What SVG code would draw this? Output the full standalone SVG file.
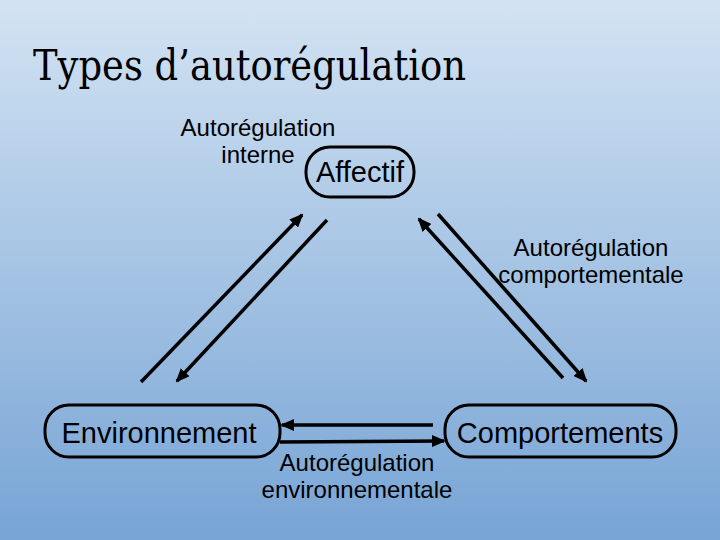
<svg xmlns="http://www.w3.org/2000/svg" width="720" height="540" viewBox="0 0 720 540">
<defs>
<linearGradient id="bg" x1="0" y1="0" x2="0" y2="1">
<stop offset="0" stop-color="#d3e3f3"/>
<stop offset="1" stop-color="#77a4d5"/>
</linearGradient>
<marker id="ah" markerWidth="14" markerHeight="12" refX="12" refY="6" orient="auto" markerUnits="userSpaceOnUse">
<path d="M0,0 L14,6 L0,12 z" fill="#000"/>
</marker>
<style>
.node rect{fill:none;stroke:#000;stroke-width:3}
.nt{font-family:"Liberation Sans",Arial,sans-serif;font-size:29px;fill:#000;text-anchor:middle}
.lbl{font-family:"Liberation Sans",Arial,sans-serif;font-size:24px;fill:#000;text-anchor:middle}
.conn line{stroke:#000;stroke-width:3.5}
</style>
</defs>
<rect x="0" y="0" width="720" height="540" fill="url(#bg)"/>
<text x="33" y="80" font-family="'DejaVu Serif','Liberation Serif',serif" font-size="42" textLength="433" lengthAdjust="spacingAndGlyphs" fill="#000">Types d’autorégulation</text>
<g id="affectif" class="node">
<rect x="306" y="147" width="108" height="50" rx="24"/>
<text class="nt" x="360" y="182">Affectif</text>
</g>
<g id="environnement" class="node">
<rect x="45" y="405" width="235" height="52" rx="24"/>
<text class="nt" x="159" y="443">Environnement</text>
</g>
<g id="comportements" class="node">
<rect x="445" y="405" width="231" height="52" rx="24"/>
<text class="nt" x="560" y="443">Comportements</text>
</g>
<g id="connectors" class="conn">
<line x1="141" y1="382" x2="302" y2="215" marker-end="url(#ah)"/>
<line x1="327" y1="220" x2="177" y2="381" marker-end="url(#ah)"/>
<line x1="563" y1="378" x2="419" y2="219" marker-end="url(#ah)"/>
<line x1="438" y1="214" x2="586" y2="381" marker-end="url(#ah)"/>
<line x1="433" y1="425" x2="282" y2="425" marker-end="url(#ah)"/>
<line x1="280" y1="442" x2="444" y2="441" marker-end="url(#ah)"/>
</g>
<g id="labels">
<text class="lbl" x="258" y="136">Autorégulation</text>
<text class="lbl" x="258" y="163">interne</text>
<text class="lbl" x="591" y="256">Autorégulation</text>
<text class="lbl" x="591" y="283">comportementale</text>
<text class="lbl" x="357" y="471">Autorégulation</text>
<text class="lbl" x="357" y="498">environnementale</text>
</g>
</svg>
